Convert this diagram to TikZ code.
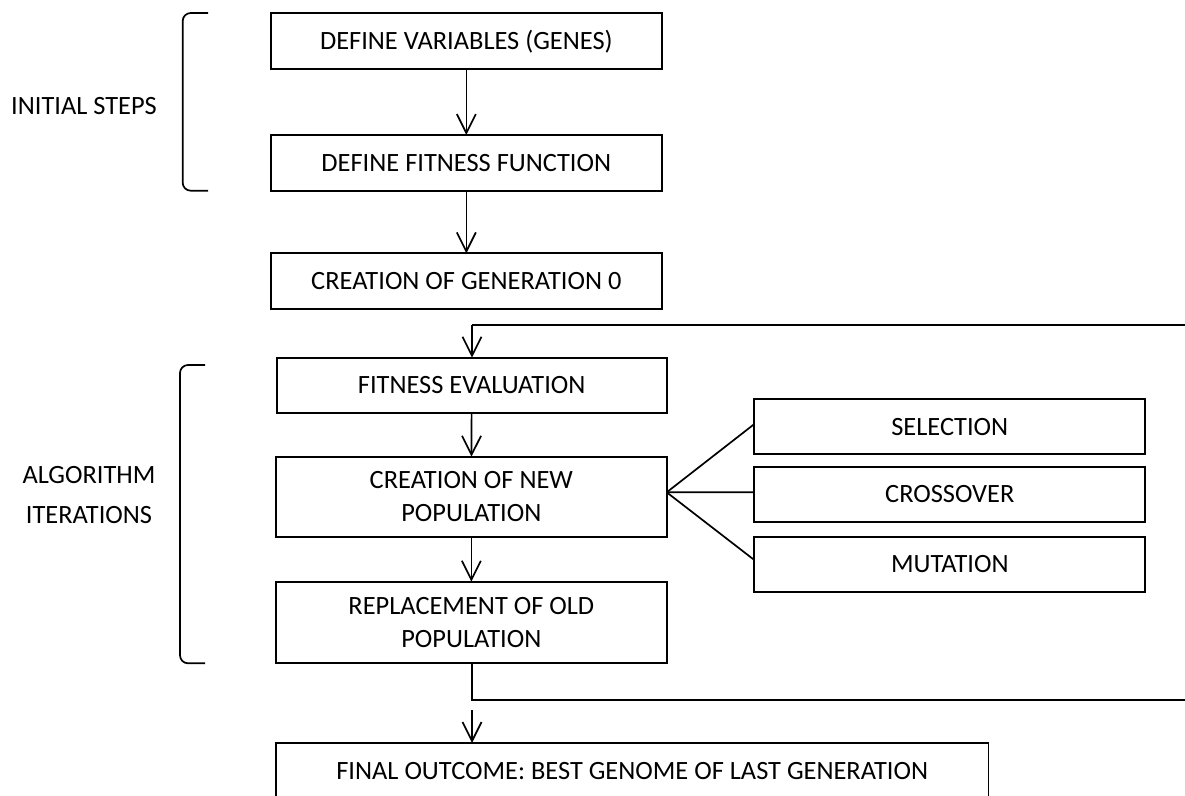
\documentclass[tikz,border=0pt]{standalone}
\usepackage{fontspec}
\setmainfont{Carlito}
\usetikzlibrary{arrows.meta}

\tikzset{
  stepbox/.style={draw, line width=1.9pt, rectangle, inner sep=0pt, outer sep=0pt,
    align=center, font=\fontsize{26.4}{32.5}\selectfont},
  flow/.style={line width=1.7pt, -{Straight Barb[length=19pt,width=19pt,line width=1.7pt]}},
  link/.style={line width=1.7pt},
  brace/.style={line width=1.7pt, rounded corners=8pt},
  sidelabel/.style={align=center, inner sep=0pt}
}

\begin{document}
\begin{tikzpicture}[x=1pt, y=-1pt]
  \useasboundingbox[fill=white] (0,0) rectangle (1185,795);

  % main column
  \node[stepbox, minimum width=390.7pt, minimum height=56pt] (vars) at (466.35,41.3) {DEFINE VARIABLES (GENES)};
  \node[stepbox, minimum width=390.7pt, minimum height=55.7pt] (fit) at (466.35,162.85) {DEFINE FITNESS FUNCTION};
  \node[stepbox, minimum width=390.7pt, minimum height=56pt] (gen0) at (466.35,281.3) {CREATION OF GENERATION 0};
  \node[stepbox, minimum width=390pt, minimum height=55.3pt] (eval) at (471.7,385.35) {FITNESS EVALUATION};
  \node[stepbox, minimum width=390.7pt, minimum height=80pt] (newpop) at (471.35,496.7) {CREATION OF NEW\\POPULATION};
  \node[stepbox, minimum width=390.7pt, minimum height=81.6pt] (repl) at (471.35,622.5) {REPLACEMENT OF OLD\\POPULATION};
  \node[stepbox, minimum width=712.5pt, minimum height=56pt] (final) at (632.25,771) {FINAL OUTCOME: BEST GENOME OF LAST GENERATION};

  % genetic operators
  \node[stepbox, minimum width=391pt, minimum height=55.3pt] (sel) at (949.8,426.65) {SELECTION};
  \node[stepbox, minimum width=391pt, minimum height=55pt] (cross) at (949.8,494.2) {CROSSOVER};
  \node[stepbox, minimum width=391pt, minimum height=55.6pt] (mut) at (949.8,564.5) {MUTATION};

  % side labels
  \node[sidelabel, font=\fontsize{26.4}{32.5}\selectfont] (initlbl) at (84,106) {INITIAL STEPS};
  \node[sidelabel, font=\fontsize{26.4}{40}\selectfont] (iterlbl) at (89,495) {ALGORITHM\\ITERATIONS};

  % helper points for the loop
  \coordinate (looptop) at (472,325);
  \coordinate (looptopR) at (1186,325);
  \coordinate (loopbot) at (472,700);
  \coordinate (loopbotR) at (1186,700);
  \coordinate (outstart) at (472,710);
  \coordinate (fan) at (666.7,492.3);

  % straight flow
  \draw[flow] (vars) -- (fit);
  \draw[flow] (fit) -- (gen0);
  \draw[link] (looptopR) -- (looptop);
  \draw[flow] (looptop) -- (looptop |- eval.north);
  \draw[flow] (eval) -- (newpop);
  \draw[flow] (newpop) -- (repl);
  \draw[link] (repl.south -| loopbot) -- (loopbot) -- (loopbotR);
  \draw[flow] (outstart) -- (outstart |- final.north);

  % fan to operators
  \draw[link] (fan) -- ([yshift=2.6pt]sel.west);
  \draw[link] (fan) -- ([yshift=2pt]cross.west);
  \draw[link] (fan) -- ([yshift=4.5pt]mut.west);

  % brackets
  \draw[brace] (208,13) -- (182.7,13) -- (182.7,190.7) -- (208,190.7);
  \draw[brace] (205,365) -- (180,365) -- (180,663.3) -- (205,663.3);
\end{tikzpicture}
\end{document}
